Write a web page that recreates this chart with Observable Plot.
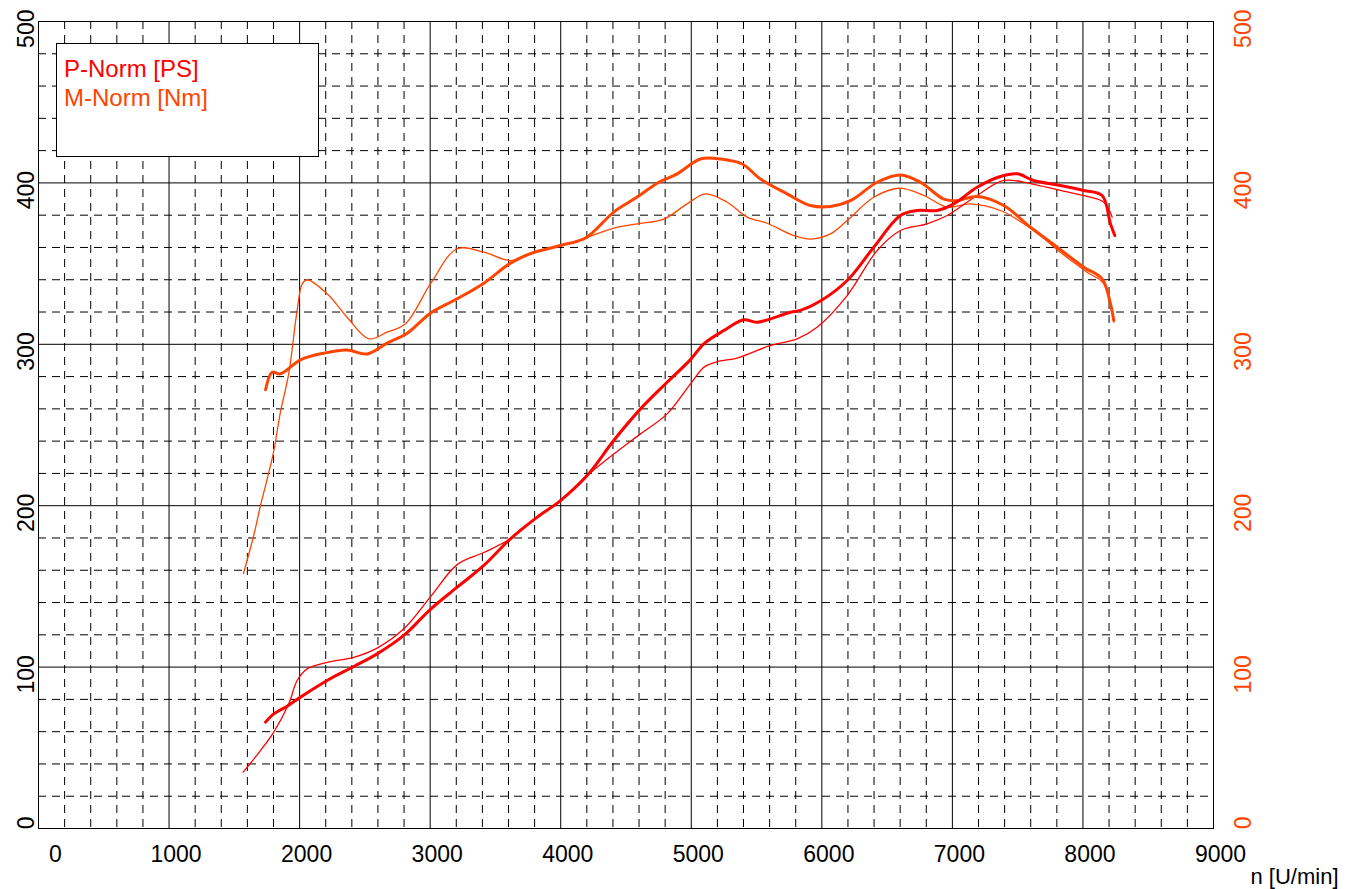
<!DOCTYPE html>
<html>
<head>
<meta charset="utf-8">
<script src="https://cdn.jsdelivr.net/npm/d3@7"></script>
<script src="https://cdn.jsdelivr.net/npm/@observablehq/plot@0.6"></script>
<style>
  html, body { margin: 0; padding: 0; background: #fff; }
  #wrap { position: relative; width: 1355px; height: 889px; }
  #legend { position: absolute; left: 56px; top: 43px; width: 261px; height: 112px;
    border: 1px solid #000; background: #fff; font-family: 'Liberation Sans', Arial, sans-serif; font-size: 24px; line-height: 24px; }
  #legend div { position: absolute; left: 7px; white-space: nowrap; }
</style>
</head>
<body>
<div id="wrap"><div id="chart"></div>
<div id="legend"><div id="l1" style="top:13px;color:#ff0000">P-Norm [PS]</div><div id="l2" style="top:42px;color:#ff4500">M-Norm [Nm]</div></div>
</div>
<script>
// Data: [rpm, value]
const pNormThick = [[1739,65.9],[1802,71],[1905,75.8],[2007,81.4],[2211,91.7],[2415,100.4],[2594,108.2],[2798,119.6],[3002,135.8],[3207,149.5],[3411,163],[3615,179.5],[3820,192.9],[3998,203.2],[4202,218.7],[4406,240.4],[4611,260],[4815,276.5],[4994,290.5],[5096,300.3],[5249,308.5],[5402,315.2],[5504,313.7],[5760,319.9],[5836,321],[5989,326.8],[6194,339.5],[6398,360.2],[6602,379.8],[6730,382.9],[6883,382.9],[7011,387],[7189,397.3],[7368,404],[7496,405.6],[7623,401.5],[7827,398.4],[8006,395.3],[8147,392.2],[8211,374.6],[8244,367.4]];
const pNormThin = [[1568,34.9],[1700,48.3],[1802,59.7],[1917,77.3],[1981,91.7],[2058,98.9],[2211,103],[2415,106.1],[2594,111.8],[2798,123.7],[3002,143.5],[3207,163.5],[3411,171],[3615,179.5],[3820,192.9],[3998,203.2],[4202,218.7],[4406,232],[4611,244.5],[4815,256.9],[4994,275.5],[5100,286],[5211,289.5],[5351,291.5],[5607,299.3],[5811,303.4],[5964,310.6],[6194,330.2],[6424,358.1],[6602,370.5],[6806,374.6],[6960,379.8],[7189,392.2],[7394,401.5],[7598,399.6],[7827,395.3],[8032,391.6],[8160,388],[8224,378.8]];
const mNormThick = [[1739,271.8],[1790,282.7],[1853,281.7],[2007,290.4],[2185,294.5],[2364,296.5],[2517,294],[2670,300.7],[2824,306.9],[3002,319.3],[3207,328.2],[3411,337.9],[3615,350.3],[3768,356.2],[3998,361.2],[4190,365.9],[4406,381.9],[4586,391.2],[4739,399.8],[4892,405.6],[5070,414.8],[5224,414.8],[5390,411.7],[5530,402.4],[5734,393.2],[5913,386],[6066,385.4],[6219,389],[6424,400.4],[6602,404.9],[6755,400.4],[6934,390],[7036,389],[7189,391.6],[7394,386],[7598,372.5],[7802,360.2],[8006,347.8],[8147,340.5],[8211,325],[8236,314.7]];
const mNormThin = [[1570,158],[1650,182],[1700,200],[1750,216],[1800,233],[1853,258],[1917,282],[1981,321],[2020,337.4],[2058,340],[2211,331.3],[2364,316.8],[2530,303.4],[2670,307.5],[2811,312.7],[3002,337.4],[3207,359.2],[3411,357.1],[3615,351.9],[3768,356.2],[3998,361.2],[4190,365.9],[4406,372],[4586,374.6],[4790,377.6],[4968,387],[5109,393.2],[5275,388],[5428,378.8],[5581,375],[5785,367.4],[5913,365.2],[6066,368.4],[6194,376.7],[6398,391.1],[6590,396.7],[6781,392.2],[6960,385],[7138,387],[7368,382.9],[7623,370.5],[7827,357],[8032,344.7],[8160,337.5],[8236,313.7]];

const xTickLabels = [1000,2000,3000,4000,5000,6000,7000,8000,9000];
const xZeroLabel = [0];
const yTickLabels = [0,100,200,300,400,500];
const xMajor = [1000,2000,3000,4000,5000,6000,7000,8000];
const yMajor = [100,200,300,400];
const xMinor = d3.range(200, 9000, 200).filter(v => v % 1000 !== 0);
const yMinor = d3.range(20, 500, 20).filter(v => v % 100 !== 0);
const axisTitle = ["n [U/min]"];

const RED = "#ff0000", ORANGE = "#ff4500";
const curve = "catmull-rom";
const fmt = d => String(d);

const chart = Plot.plot({
  width: 1355, height: 889,
  marginLeft: 38, marginRight: 142, marginTop: 21, marginBottom: 61,
  style: {fontFamily: "'Liberation Sans', Arial, sans-serif", fontSize: "23px", background: "#fff", overflow: "visible"},
  x: {domain: [0, 9000]},
  y: {domain: [0, 500]},
  marks: [
    Plot.ruleX(xMinor, {stroke: "#000", strokeWidth: 1, strokeDasharray: "8,6"}),
    Plot.ruleY(yMinor, {stroke: "#000", strokeWidth: 1, strokeDasharray: "8,6"}),
    Plot.ruleX(xMajor, {stroke: "#000", strokeWidth: 1}),
    Plot.ruleY(yMajor, {stroke: "#000", strokeWidth: 1}),
    Plot.frame({stroke: "#000"}),
    Plot.axisX(xTickLabels, {tickSize: 0, tickPadding: 17, dx: 7, label: null, fontSize: 23, fill: "#000", tickFormat: fmt}),
    Plot.axisX(xZeroLabel, {tickSize: 0, tickPadding: 17, dx: 17, label: null, fontSize: 23, fill: "#000", tickFormat: fmt}),
    Plot.axisY(yTickLabels, {anchor: "left", tickSize: 0, tickPadding: 12, rotate: -90, textAnchor: "end", dy: -12, label: null, fontSize: 23, fill: "#000", tickFormat: fmt}),
    Plot.axisY(yTickLabels, {anchor: "right", tickSize: 0, tickPadding: 30, rotate: -90, textAnchor: "end", dy: -12, label: null, fontSize: 23, fill: ORANGE, tickFormat: fmt}),
    Plot.line(mNormThin, {x: d => d[0], y: d => d[1], stroke: ORANGE, strokeWidth: 1.3, curve}),
    Plot.line(pNormThin, {x: d => d[0], y: d => d[1], stroke: RED, strokeWidth: 1.3, curve}),
    Plot.line(mNormThick, {x: d => d[0], y: d => d[1], stroke: ORANGE, strokeWidth: 3, curve}),
    Plot.line(pNormThick, {x: d => d[0], y: d => d[1], stroke: RED, strokeWidth: 3, curve}),
    Plot.text(axisTitle, {frameAnchor: "bottom-right", dx: 125, dy: 55, textAnchor: "end", lineAnchor: "bottom", fontSize: 22, fill: "#000"})
  ]
});
document.getElementById("chart").appendChild(chart);
</script>
</body>
</html>
